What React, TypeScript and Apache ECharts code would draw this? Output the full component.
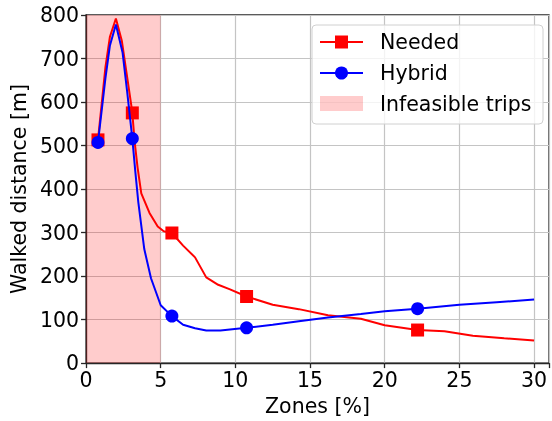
import React, { useEffect, useRef } from "react";
import * as echarts from "echarts";

const neededX = [0.8, 1.3, 1.6, 2.0, 2.4, 2.7, 3.0, 3.1, 3.25, 3.45, 3.7, 4.25, 4.8, 5.2, 5.75, 6.5, 7.3, 8.05, 8.85, 9.6, 10.75, 12.5, 14.25, 16.2, 18.4, 20.0, 22.2, 24.0, 25.9, 28.0, 30.0];
const neededY = [513, 680, 750, 792, 740, 670, 600, 575, 510, 450, 390, 345, 314, 303, 299, 270, 243, 197, 180, 170, 153, 134, 124, 110, 102, 87, 76, 73, 63, 57, 52];
const neededMarkerX = [0.8, 3.1, 5.75, 10.75, 22.2];

const hybridX = [0.8, 1.3, 1.6, 2.0, 2.45, 2.75, 3.1, 3.3, 3.5, 3.9, 4.35, 5.0, 5.75, 6.5, 7.3, 8.05, 9.0, 10.75, 12.5, 14.25, 16.2, 18.4, 20.0, 22.2, 25.0, 27.5, 30.0];
const hybridY = [507, 655, 730, 778, 713, 625, 516, 440, 370, 262, 195, 133, 108, 88, 80, 75, 75, 81, 88, 96, 105, 113, 119, 125, 134, 140, 146];
const hybridMarkerX = [0.8, 3.1, 5.75, 10.75, 22.2];

const infeasibleRange = [0, 5];
const xTicks = { min: 0, max: 31, interval: 5 };
const yTicks = { min: 0, max: 800, interval: 100 };
const legendLabels = ["Needed", "Hybrid", "Infeasible trips"];

const FONT = "DejaVu Sans";
const FS = 20.5;

function build(xs: number[], ys: number[], marks: number[], symbol: string) {
  return xs.map((x, i) => ({
    value: [x, ys[i]],
    symbol: marks.includes(x) ? symbol : "none",
  }));
}

export default function App() {
  const ref = useRef<HTMLDivElement>(null);
  useEffect(() => {
    if (!ref.current) return;
    const chart = echarts.init(ref.current, null, { renderer: "svg" });
    const axisColor = "#262626";
    const gridColor = "#c4c4c4";
    const ly = [42, 73, 104];
    chart.setOption({
      animation: false,
      grid: {
        left: 84,
        top: 15,
        width: 470,
        height: 349,
        show: true,
        borderColor: axisColor,
        borderWidth: 1.3,
        backgroundColor: "transparent",
      },
      xAxis: {
        type: "value",
        min: xTicks.min,
        max: xTicks.max,
        interval: xTicks.interval,
        name: "Zones [%]",
        nameLocation: "middle",
        nameGap: 29,
        nameTextStyle: { fontFamily: FONT, fontSize: FS, color: "#000" },
        axisLine: { show: true, lineStyle: { color: axisColor, width: 1.3 } },
        axisTick: { show: true, length: 5, lineStyle: { color: axisColor, width: 1.3 } },
        axisLabel: {
          fontFamily: FONT,
          fontSize: FS,
          color: "#000",
          margin: 6,
          formatter: (v: number) => (v % 5 === 0 ? String(v) : ""),
        },
        splitLine: { show: true, lineStyle: { color: gridColor, width: 1.2 } },
      },
      yAxis: {
        type: "value",
        min: yTicks.min,
        max: yTicks.max,
        interval: yTicks.interval,
        name: "Walked distance [m]",
        nameLocation: "middle",
        nameGap: 46,
        nameTextStyle: { fontFamily: FONT, fontSize: FS, color: "#000" },
        axisLine: { show: true, lineStyle: { color: axisColor, width: 1.3 } },
        axisTick: { show: true, length: 5, lineStyle: { color: axisColor, width: 1.3 } },
        axisLabel: { fontFamily: FONT, fontSize: FS, color: "#000", margin: 7 },
        splitLine: { show: true, lineStyle: { color: gridColor, width: 1.2 } },
      },
      series: [
        {
          name: legendLabels[0],
          type: "line",
          z: 2,
          data: build(neededX, neededY, neededMarkerX, "rect"),
          symbolSize: 13,
          showSymbol: true,
          lineStyle: { color: "#ff0000", width: 2 },
          itemStyle: { color: "#ff0000", borderWidth: 0 },
          markArea: {
            silent: true,
            itemStyle: { color: "rgba(255,0,0,0.2)" },
            data: [[{ xAxis: infeasibleRange[0] }, { xAxis: infeasibleRange[1] }]],
          },
        },
        {
          name: legendLabels[1],
          type: "line",
          z: 3,
          data: build(hybridX, hybridY, hybridMarkerX, "circle"),
          symbolSize: 13,
          showSymbol: true,
          lineStyle: { color: "#0000ff", width: 2 },
          itemStyle: { color: "#0000ff", borderWidth: 0 },
        },
      ],
      graphic: [
        {
          type: "rect",
          z: 100,
          shape: { x: 312, y: 25, width: 231, height: 99, r: 4 },
          style: { fill: "rgba(255,255,255,0.8)", stroke: "#d0d0d0", lineWidth: 1 },
        },
        { type: "line", z: 101, shape: { x1: 320, y1: ly[0], x2: 363, y2: ly[0] }, style: { stroke: "#ff0000", lineWidth: 2 } },
        { type: "rect", z: 102, shape: { x: 335, y: ly[0] - 6.5, width: 13, height: 13 }, style: { fill: "#ff0000" } },
        { type: "line", z: 101, shape: { x1: 320, y1: ly[1], x2: 363, y2: ly[1] }, style: { stroke: "#0000ff", lineWidth: 2 } },
        { type: "circle", z: 102, shape: { cx: 341.5, cy: ly[1], r: 6.5 }, style: { fill: "#0000ff" } },
        { type: "rect", z: 101, shape: { x: 320, y: ly[2] - 8, width: 43, height: 15 }, style: { fill: "rgba(255,0,0,0.2)" } },
        ...legendLabels.map((t, i) => ({
          type: "text",
          z: 102,
          x: 380,
          y: ly[i],
          style: { text: t, fontFamily: FONT, fontSize: FS, fill: "#000", verticalAlign: "middle", align: "left" },
        })),
      ],
    });
    return () => chart.dispose();
  }, []);
  return <div ref={ref} style={{ position: "fixed", left: 0, top: 0, width: 552, height: 421 }} />;
}
